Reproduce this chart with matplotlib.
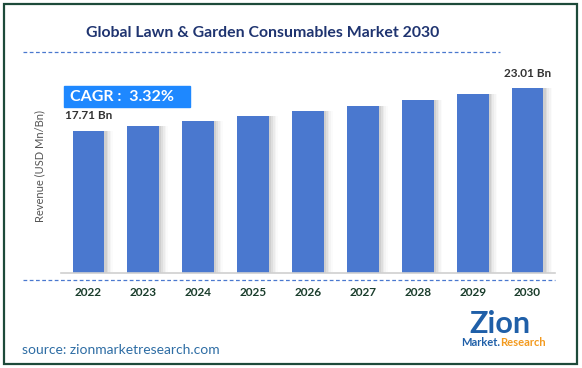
import numpy as np
import matplotlib.pyplot as plt
from matplotlib.patches import Rectangle
from matplotlib.lines import Line2D

years = ['2022', '2023', '2024', '2025', '2026', '2027', '2028', '2029', '2030']
revenue = [17.71, 18.30, 18.92, 19.55, 20.19, 20.87, 21.56, 22.28, 23.01]
title = 'Global Lawn & Garden Consumables Market 2030'
cagr = 'CAGR :  3.32%'

W, H = 582, 368
fig = plt.figure(figsize=(W / 100, H / 100), dpi=100)
plt.rcParams['font.family'] = ['Lato', 'DejaVu Sans']

def px(x, y):
    return x / W, 1 - y / H

# outer border
fig.patches.append(Rectangle(px(4, 364), 573 / W, 360 / H, transform=fig.transFigure,
                             fill=False, edgecolor='#1d4a3a', linewidth=1.6))

ax = fig.add_axes([61 / W, 1 - 273 / H, 494 / W, 213 / H])
x = np.arange(len(years))

# soft shadow to the right of each bar
for k, a in enumerate([0.10, 0.08, 0.06, 0.04, 0.02]):
    ax.bar(x + 0.04 + k * 0.03, revenue, width=0.58, color='#555555', alpha=a, zorder=1)
ax.bar(x, revenue, width=0.58, color='#4a78cf', zorder=2)

ax.set_xlim(-0.5, 8.5)
ax.set_ylim(0, 26.56)
for s in ['top', 'right', 'left']:
    ax.spines[s].set_visible(False)
ax.spines['bottom'].set_color('#d0d0d0')
ax.spines['bottom'].set_linewidth(1.2)
ax.set_yticks([])
ax.set_xticks(x)
ax.set_xticklabels(years, fontsize=8.5, fontweight='bold', color='#1a3d2c')
ax.tick_params(axis='x', length=0, pad=10)
ax.set_ylabel('Revenue (USD Mn/Bn)', fontsize=8, color='#555555', labelpad=11)

ax.annotate(f'{revenue[0]:.2f} Bn', (x[0], revenue[0]), xytext=(0, 7), textcoords='offset points',
            ha='center', va='bottom', fontsize=8.5, fontweight='bold', color='#333333')
ax.annotate(f'{revenue[-1]:.2f} Bn', (x[-1], revenue[-1]), xytext=(0, 7), textcoords='offset points',
            ha='center', va='bottom', fontsize=8.5, fontweight='bold', color='#333333')

# title
fig.text(*px(263, 33), title, ha='center', va='center', fontsize=11.4, fontweight='bold',
         color='#1f3470')
fig.add_artist(Line2D([23 / W, 500 / W], [1 - 52 / H] * 2, transform=fig.transFigure,
                      color='#4a78cf', linestyle=(0, (3, 2)), linewidth=0.9))
fig.add_artist(Line2D([23 / W, 555 / W], [1 - 280 / H] * 2, transform=fig.transFigure,
                      color='#4a78cf', linestyle=(0, (3, 2)), linewidth=0.9))

# CAGR box
fig.patches.append(Rectangle(px(64, 107), 126 / W, 21 / H, transform=fig.transFigure,
                             color='#1e88ff', zorder=5))
fig.text(*px(70, 97), cagr, ha='left', va='center', fontsize=11.5, fontweight='bold',
         color='white', zorder=6)

# source
fig.text(*px(22, 350), 'source: zionmarketresearch.com', ha='left', va='center',
         fontsize=10, color='#2e6da4')

# logo
fig.text(*px(500, 324), 'Zion', ha='center', va='center', fontsize=22, fontweight='bold',
         color='#1f5fa8')
fig.text(*px(500, 343), 'Market.', ha='right', va='center', fontsize=8, fontweight='bold',
         color='#1f5fa8')
fig.text(*px(500, 343), 'Research', ha='left', va='center', fontsize=8, fontweight='bold',
         color='#f39a1e')

fig.savefig('out.png', dpi=100)
